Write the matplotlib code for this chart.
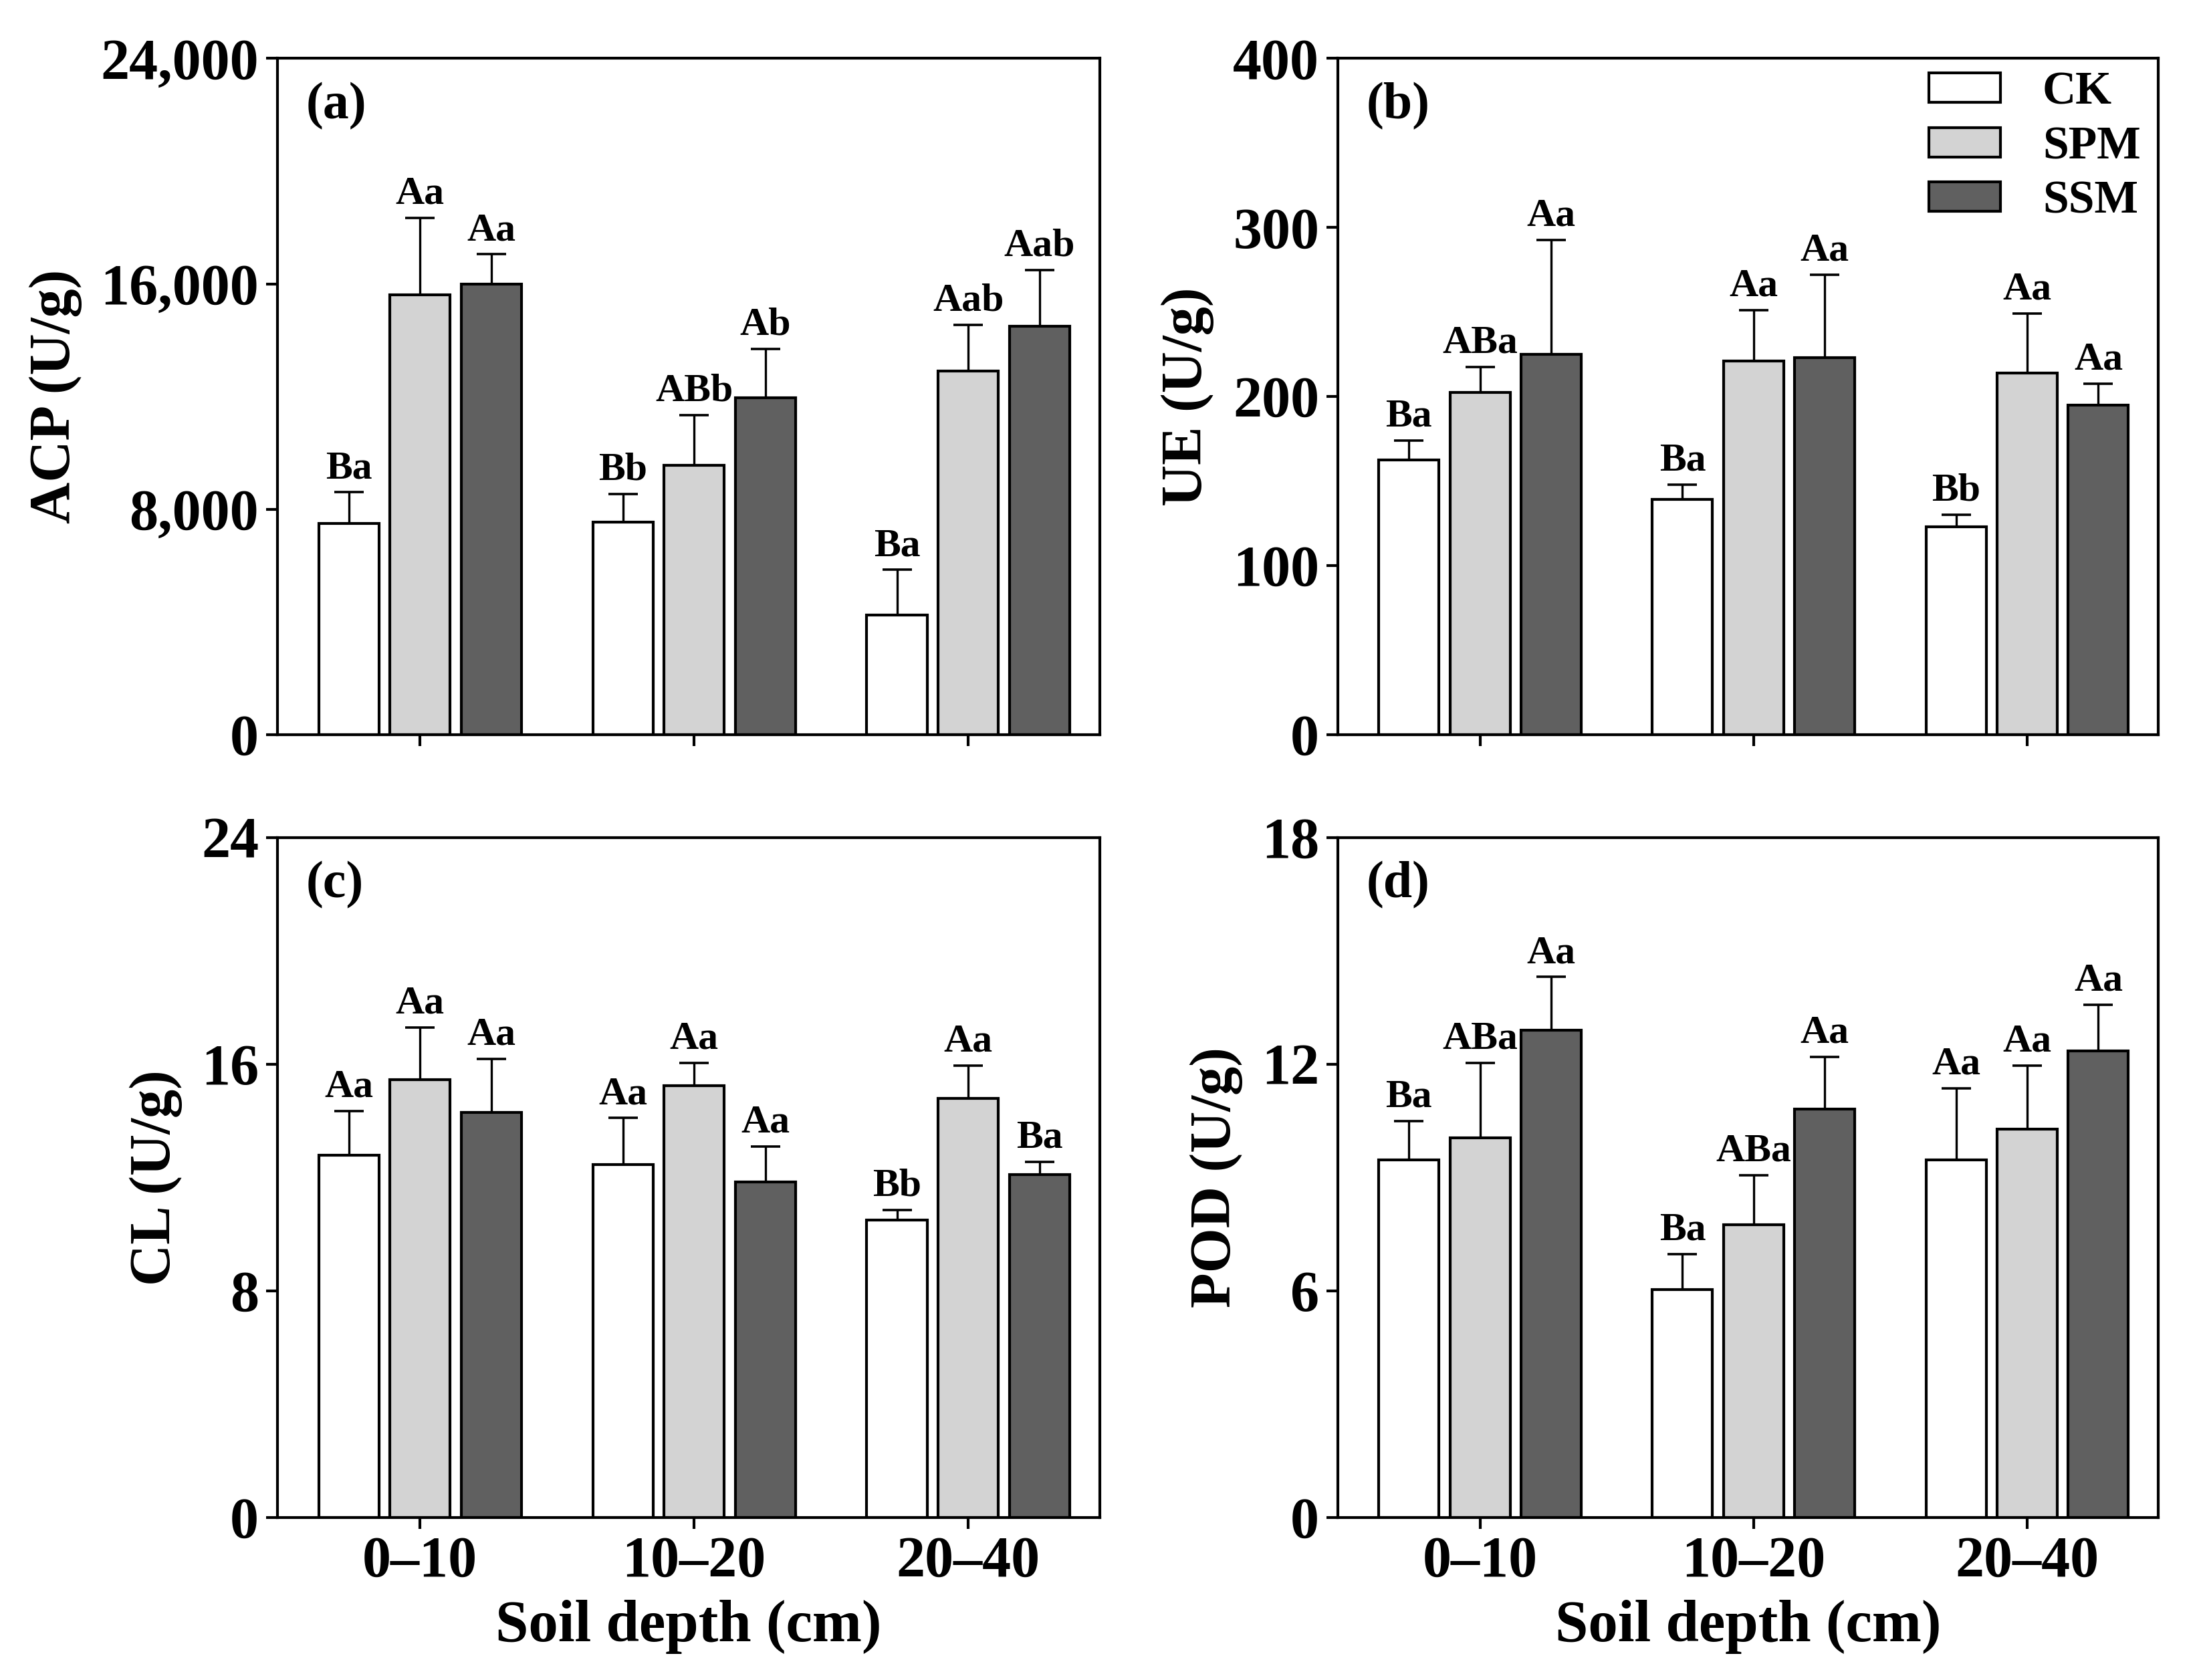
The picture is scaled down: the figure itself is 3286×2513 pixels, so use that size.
import numpy as np
import matplotlib
matplotlib.use("Agg")
from matplotlib import pyplot as plt
from matplotlib.ticker import FuncFormatter

plt.rcParams['font.family'] = ['Liberation Serif', 'DejaVu Serif']
plt.rcParams['font.weight'] = 'bold'

depths = ['0\u201310', '10\u201320', '20\u201340']
treatments = ['CK', 'SPM', 'SSM']
colors = ['#ffffff', '#d3d3d3', '#606060']

# mean values per treatment (rows) and depth (columns)
acp_mean = [[7500, 7550, 4250], [15600, 9550, 12900], [16000, 11950, 14500]]
acp_err = [[1100, 1000, 1600], [2750, 1800, 1650], [1050, 1750, 2000]]
acp_sig = [['Ba', 'Bb', 'Ba'], ['Aa', 'ABb', 'Aab'], ['Aa', 'Ab', 'Aab']]

ue_mean = [[162.5, 139, 123], [202.5, 221, 214], [225, 223, 195]]
ue_err = [[11.5, 9, 7], [15, 30, 35], [67.5, 49, 12.5]]
ue_sig = [['Ba', 'Ba', 'Bb'], ['ABa', 'Aa', 'Aa'], ['Aa', 'Aa', 'Aa']]

cl_mean = [[12.8, 12.45, 10.5], [15.45, 15.25, 14.8], [14.3, 11.85, 12.1]]
cl_err = [[1.55, 1.65, 0.35], [1.85, 0.8, 1.15], [1.9, 1.25, 0.45]]
cl_sig = [['Aa', 'Aa', 'Bb'], ['Aa', 'Aa', 'Aa'], ['Aa', 'Aa', 'Ba']]

pod_mean = [[9.47, 6.04, 9.47], [10.06, 7.75, 10.29], [12.9, 10.81, 12.35]]
pod_err = [[1.03, 0.93, 1.9], [1.98, 1.31, 1.67], [1.41, 1.38, 1.22]]
pod_sig = [['Ba', 'Ba', 'Aa'], ['ABa', 'ABa', 'Aa'], ['Aa', 'Aa', 'Aa']]

panels = [
    ('(a)', 'ACP (U/g)', acp_mean, acp_err, acp_sig, [0, 8000, 16000, 24000]),
    ('(b)', 'UE (U/g)', ue_mean, ue_err, ue_sig, [0, 100, 200, 300, 400]),
    ('(c)', 'CL (U/g)', cl_mean, cl_err, cl_sig, [0, 8, 16, 24]),
    ('(d)', 'POD (U/g)', pod_mean, pod_err, pod_sig, [0, 6, 12, 18]),
]

rects = [
    [0.1263, 0.5627, 0.3743, 0.4025],
    [0.6089, 0.5627, 0.3736, 0.4025],
    [0.1263, 0.0967, 0.3743, 0.4047],
    [0.6089, 0.0967, 0.3736, 0.4047],
]

fig = plt.figure(figsize=(32.86, 25.13), dpi=100)

x = np.arange(len(depths))
width = 0.22
step = 0.26
lw = 3.0

for i, (tag, ylab, mean, err, sig, yticks) in enumerate(panels):
    ax = fig.add_axes(rects[i])
    top = yticks[-1]
    for j, name in enumerate(treatments):
        xs = x + (j - 1) * step
        ax.bar(xs, mean[j], width, color=colors[j], edgecolor='black',
               linewidth=lw, label=name, zorder=2)
        ax.errorbar(xs, mean[j], yerr=[np.zeros(3), err[j]], fmt='none',
                    ecolor='black', elinewidth=2.4, capsize=16, capthick=2.6,
                    zorder=1)
        for k in range(3):
            ax.annotate(sig[j][k], (xs[k], mean[j][k] + err[j][k]),
                        xytext=(0, 6), textcoords='offset points',
                        ha='center', va='bottom', fontsize=43,
                        fontweight='bold')

    ax.set_xlim(-0.52, 2.48)
    ax.set_ylim(0, top)
    ax.set_yticks(yticks)
    if top > 1000:
        ax.yaxis.set_major_formatter(FuncFormatter(lambda v, p: '{:,.0f}'.format(v)))
    ax.set_xticks(x)
    if i >= 2:
        ax.set_xticklabels(depths)
        ax.set_xlabel('Soil depth (cm)', fontsize=64, fontweight='bold', labelpad=12)
    else:
        ax.set_xticklabels([])
    ax.set_ylabel(ylab, fontsize=62, fontweight='bold', labelpad=20)
    ax.tick_params(axis='both', direction='out', length=12, width=lw,
                   labelsize=62, pad=8)
    for s in ax.spines.values():
        s.set_linewidth(lw)
    ax.text(0.035, 0.93, tag, transform=ax.transAxes, ha='left', va='center',
            fontsize=56, fontweight='bold')

    if i == 1:
        ax.legend(loc='upper right', bbox_to_anchor=(1.012, 1.022), frameon=False,
                  fontsize=50, handlelength=1.55, handleheight=0.6,
                  handletextpad=0.9, labelspacing=0.25, borderaxespad=0.2)

fig.savefig('out.png', dpi=100)
